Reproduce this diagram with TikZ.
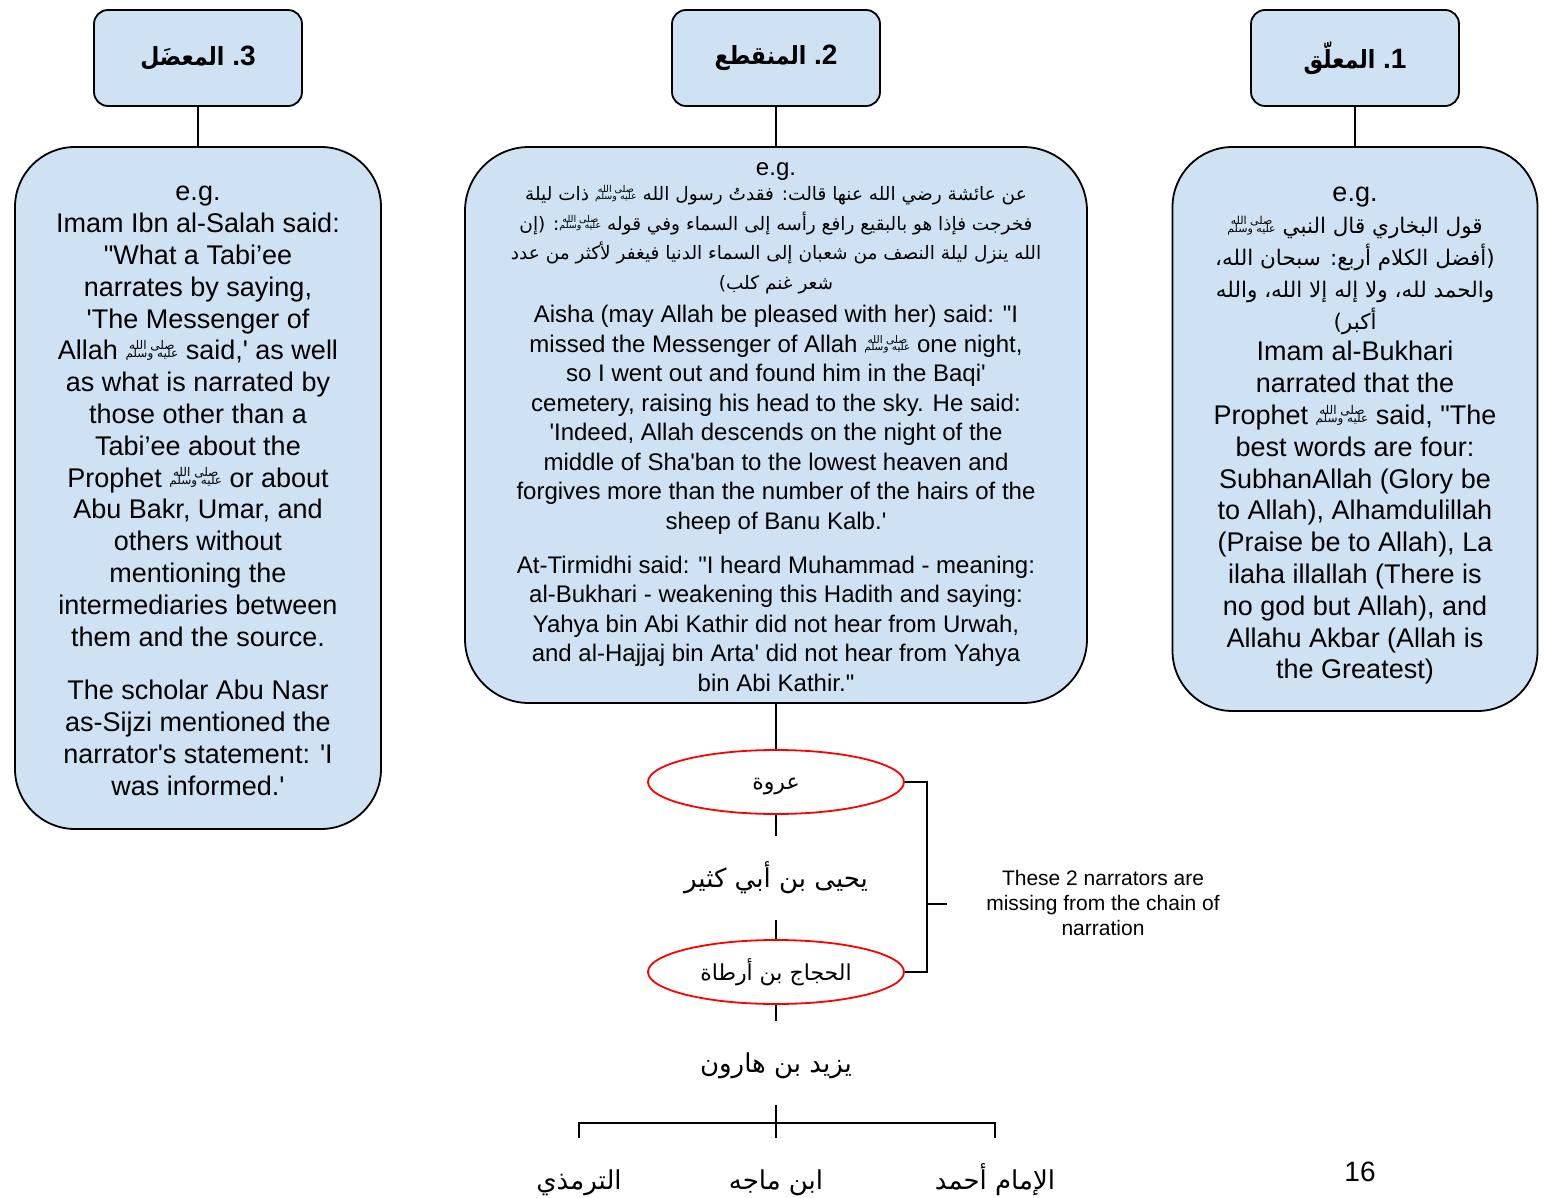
\documentclass[tikz,border=0pt]{standalone}
\usepackage{fontspec}
\usepackage{graphicx}
\setmainfont{Liberation Sans}[Ligatures=TeXOff]
\newfontfamily\arabicfont[Script=Arabic]{DejaVu Sans}
\TeXXeTstate=1
\usetikzlibrary{shapes.geometric}
\definecolor{boxblue}{HTML}{CFE2F3}
\definecolor{ovalred}{HTML}{FF0000}
\newcommand{\ar}[1]{{\arabicfont\beginR #1\endR}}
\newcommand{\ars}[2]{{\arabicfont\fontsize{#1}{#1}\selectfont\beginR #2\endR}}
\newcommand{\low}[2]{\raisebox{-#1}[\height][\depth]{\ar{#2}}}
\newcommand{\hdrar}[1]{\scalebox{0.88}[1]{\fontsize{25}{30}\selectfont\ar{#1}}}
\newcommand{\saw}[1][12]{\raisebox{0.08em}[0pt][0pt]{\arabicfont\fontsize{#1}{#1}\selectfont\begin{tabular}[b]{@{}c@{}}\beginR صلى الله\endR\\[\dimexpr-#1pt*36/100\relax]\beginR عليه وسلم\endR\end{tabular}}}
\begin{document}
\begin{tikzpicture}[x=1pt,y=-1pt,
  hdr/.style={draw, line width=1.8pt, fill=boxblue, rounded corners=14pt, minimum width=208pt, minimum height=96pt, inner sep=0pt, font=\fontsize{28}{34}\selectfont\bfseries},
  bigbox/.style={draw, line width=1.8pt, fill=boxblue, inner sep=0pt},
  boxtext/.style={inner sep=0pt, align=center},
  conn/.style={line width=1.8pt},
  oval/.style={ellipse, draw=ovalred, line width=1.8pt, fill=white, minimum width=256pt, minimum height=64pt, inner sep=0pt, font=\fontsize{22}{26}\selectfont},
  nar/.style={inner sep=0pt, minimum height=84pt, font=\fontsize{26}{30}\selectfont},
  note/.style={inner sep=0pt, align=center, font=\fontsize{21}{25}\selectfont}
]
\useasboundingbox (0,0) rectangle (1547,1198);
\fill[white] (0,0) rectangle (1547,1198);

% headers
\node[hdr] (h3) at (198,58) {\hdrar{المعضَل}\ .3};
\node[hdr] (h2) at (776,58) {\hdrar{المنقطع}\ .2};
\node[hdr] (h1) at (1355,58) {\hdrar{المعلّق}\ .1};

% big boxes
\node[bigbox, rounded corners=60pt, minimum width=366pt, minimum height=682pt] (b3) at (198,488) {};
\node[bigbox, rounded corners=64pt, minimum width=622pt, minimum height=556pt] (b2) at (776,425) {};
\node[bigbox, rounded corners=60pt, minimum width=365pt, minimum height=564pt] (b1) at (1355,429) {};

\node[boxtext, font=\fontsize{27}{31.8}\selectfont] (t3) at (198,491) {%
e.g.\\
Imam Ibn al-Salah said:\\
"What a Tabi’ee\\
narrates by saying,\\
'The Messenger of\\
Allah \saw\ said,' as well\\
as what is narrated by\\
those other than a\\
Tabi’ee about the\\
Prophet \saw\ or about\\
Abu Bakr, Umar, and\\
others without\\
mentioning the\\
intermediaries between\\
them and the source.\\[22pt]
The scholar Abu Nasr\\
as-Sijzi mentioned the\\
narrator's statement: 'I\\
was informed.'};

\node[boxtext, font=\fontsize{24}{29.5}\selectfont] (t2) at (776,427) {%
e.g.\\[-4pt]
\ars{18.5}{عن عائشة رضي الله عنها قالت: فقدتُ رسول الله \saw[9.5]\ ذات ليلة}\\
\ars{18.5}{فخرجت فإذا هو بالبقيع رافع رأسه إلى السماء وفي قوله \saw[9.5]: (إن}\\
\ars{18.5}{الله ينزل ليلة النصف من شعبان إلى السماء الدنيا فيغفر لأكثر من عدد}\\
\ars{18.5}{شعر غنم كلب)}\\[4pt]
Aisha (may Allah be pleased with her) said: "I\\
missed the Messenger of Allah \saw[10.5]\ one night,\\
so I went out and found him in the Baqi'\\
cemetery, raising his head to the sky. He said:\\
'Indeed, Allah descends on the night of the\\
middle of Sha'ban to the lowest heaven and\\
forgives more than the number of the hairs of the\\
sheep of Banu Kalb.'\\[14.5pt]
At-Tirmidhi said: "I heard Muhammad - meaning:\\
al-Bukhari - weakening this Hadith and saying:\\
Yahya bin Abi Kathir did not hear from Urwah,\\
and al-Hajjaj bin Arta' did not hear from Yahya\\
bin Abi Kathir."};

\node[boxtext, font=\fontsize{27}{31.8}\selectfont] (t1) at (1355,436) {%
e.g.\\
\ars{21.5}{قول البخاري قال النبي \saw[11]}\\
\ars{21.5}{(أفضل الكلام أربع: سبحان الله،}\\
\ars{21.5}{والحمد لله، ولا إله إلا الله، والله}\\
\ars{21.5}{أكبر)}\\
Imam al-Bukhari\\
narrated that the\\
Prophet \saw\ said, "The\\
best words are four:\\
SubhanAllah (Glory be\\
to Allah), Alhamdulillah\\
(Praise be to Allah), La\\
ilaha illallah (There is\\
no god but Allah), and\\
Allahu Akbar (Allah is\\
the Greatest)};

\draw[conn] (h3.south) -- (b3.north);
\draw[conn] (h2.south) -- (b2.north);
\draw[conn] (h1.south) -- (b1.north);

% chain
\node[oval] (e1) at (776,782) {\low{4pt}{عروة}};
\node[nar] (yahya) at (776,878) {\ar{يحيى بن أبي كثير}};
\node[oval] (e2) at (776,972) {\ar{الحجاج بن أرطاة}};
\node[nar] (yazid) at (776,1063) {\low{3pt}{يزيد بن هارون}};
\node[nar] (tirmidhi) at (579,1180) {\low{3pt}{الترمذي}};
\node[nar] (majah) at (776,1180) {\low{3pt}{ابن ماجه}};
\node[nar] (ahmad) at (995,1180) {\ar{الإمام أحمد}};

\draw[conn] (b2.south) -- (e1.north);
\draw[conn] (e1.south) -- (yahya.north);
\draw[conn] (yahya.south) -- (e2.north);
\draw[conn] (e2.south) -- (yazid.north);
\draw[conn] (yazid.south) -- (majah.north);
\draw[conn] (tirmidhi.north) -- ++(0,-15) -| (ahmad.north);

% bracket
\draw[conn] (e1.east) -- ++(22,0) |- (e2.east);
\coordinate (bmid) at (926,904);
\coordinate (bend) at (947,904);
\draw[conn] (bmid) -- (bend);
\node[note] (missing) at (1103,903) {These 2 narrators are\\missing from the chain of\\narration};

\node[inner sep=0pt, font=\fontsize{28}{32}\selectfont] (pg) at (1360,1172) {16};
\end{tikzpicture}
\end{document}
